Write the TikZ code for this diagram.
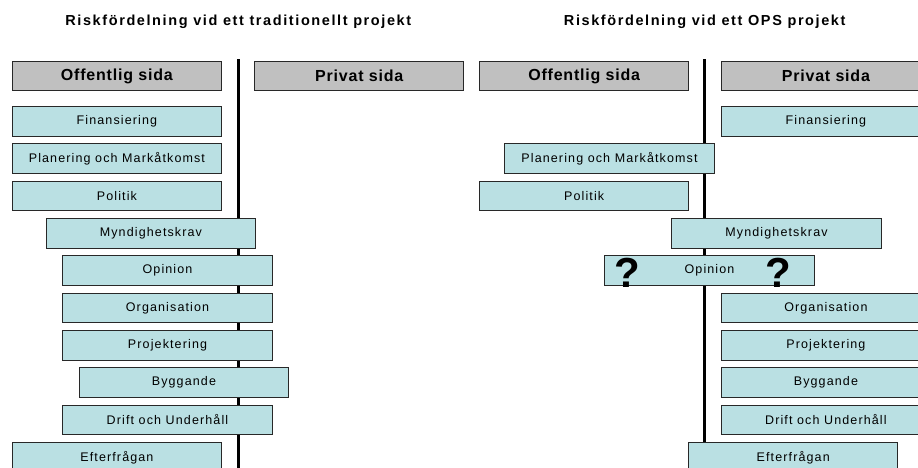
\documentclass[tikz,border=0pt]{standalone}
\usepackage{fontspec}
\setmainfont{Liberation Sans}
\definecolor{riskfill}{RGB}{186,224,227}
\definecolor{headfill}{RGB}{192,192,192}
\definecolor{edgegray}{RGB}{40,40,40}
\begin{document}
\begin{tikzpicture}[x=1pt,y=-1pt,
  basebox/.style={draw=edgegray, line width=1.1pt, anchor=north west,
    minimum width=209.3pt, minimum height=29.5pt, inner sep=0pt},
  riskbox/.style={basebox, fill=riskfill,
    font=\fontsize{12.5}{13}\selectfont\addfontfeature{LetterSpace=9}},
  headbox/.style={basebox, fill=headfill,
    font=\fontsize{16}{17}\selectfont\bfseries\addfontfeature{LetterSpace=5}},
  titletext/.style={font=\fontsize{14.5}{15}\selectfont\bfseries\addfontfeature{LetterSpace=11}},
  qmark/.style={anchor=base, inner sep=0pt, font=\fontsize{42}{42}\selectfont\bfseries},
  divider/.style={line width=3.5pt, black}]
\useasboundingbox (0,0) rectangle (918,467);
\clip (0,0) rectangle (918,467);

% dividing lines between the public and the private side
\coordinate (divLtop) at (238.3,59.3);
\coordinate (divLbot) at (238.3,470);
\coordinate (divRtop) at (704.7,59.3);
\coordinate (divRbot) at (704.7,442);
\draw[divider] (divLtop) -- (divLbot);
\draw[divider] (divRtop) -- (divRbot);

% titles
\node[titletext] (titleL) at (238.3,22) {Riskfördelning vid ett traditionellt projekt};
\node[titletext] (titleR) at (704.7,22) {Riskfördelning vid ett OPS projekt};

% traditional project
\node[headbox] (offL) at (11.7,60.7) {Offentlig sida};
\node[headbox] (privL) at (254,60.7) {Privat sida};
\node[riskbox] (finL)   at (11.7,106)   {Finansiering};
\node[riskbox] (planL)  at (11.7,143.3) {Planering och Markåtkomst};
\node[riskbox] (polL)   at (11.7,180.7) {Politik};
\node[riskbox] (myndL)  at (45.7,218)   {Myndighetskrav};
\node[riskbox] (opinL)  at (62.3,255.3) {Opinion};
\node[riskbox] (orgL)   at (62.3,292.7) {Organisation};
\node[riskbox] (projL)  at (62.3,330)   {Projektering};
\node[riskbox] (byggL)  at (78.7,367.3) {Byggande};
\node[riskbox] (driftL) at (62.3,404.7) {Drift och Underhåll};
\node[riskbox] (eftL)   at (11.7,442)   {Efterfrågan};

% OPS project
\node[headbox] (offR) at (479,60.7) {Offentlig sida};
\node[headbox] (privR) at (720.7,60.7) {Privat sida};
\node[riskbox] (finR)   at (720.7,106)   {Finansiering};
\node[riskbox] (planR)  at (504.3,143.3) {Planering och Markåtkomst};
\node[riskbox] (polR)   at (479,180.7)   {Politik};
\node[riskbox] (myndR)  at (671.3,218)   {Myndighetskrav};
\node[riskbox] (opinR)  at (604.3,255.3) {Opinion};
\node[riskbox] (orgR)   at (720.7,292.7) {Organisation};
\node[riskbox] (projR)  at (720.7,330)   {Projektering};
\node[riskbox] (byggR)  at (720.7,367.3) {Byggande};
\node[riskbox] (driftR) at (720.7,404.7) {Drift och Underhåll};
\node[riskbox] (eftR)   at (688,442)     {Efterfrågan};

% open question marks on the opinion risk
\node[qmark] (q1) at (627.3,287) {?};
\node[qmark] (q2) at (778.3,287) {?};
\end{tikzpicture}
\end{document}
